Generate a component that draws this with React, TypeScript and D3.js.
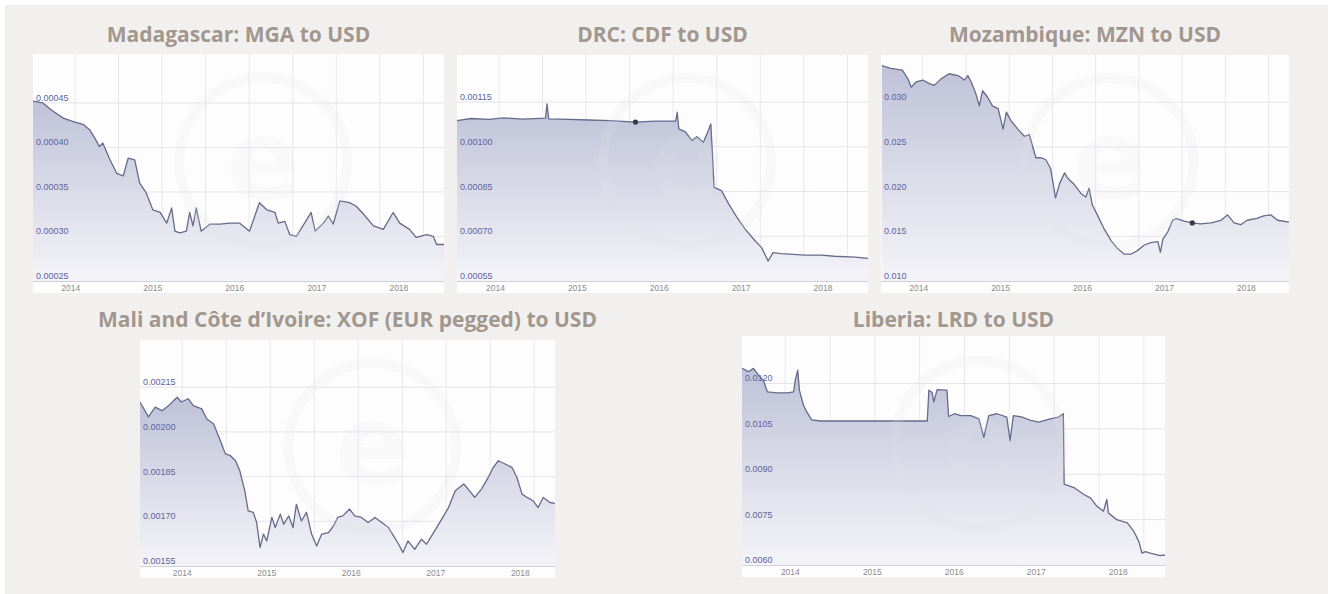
import React from 'react'
import * as d3 from 'd3'

const W = 1328
const H = 594

// [decimal year, USD per unit]
const mga: [number, number][] = [
  [2013.54, 0.000452], [2013.66, 0.00045], [2013.78, 0.000441], [2013.91, 0.000433], [2014.03, 0.000429],
  [2014.15, 0.000426], [2014.23, 0.00042], [2014.29, 0.000411], [2014.35, 0.000401], [2014.39, 0.000405],
  [2014.48, 0.000386], [2014.56, 0.000371], [2014.64, 0.000368], [2014.7, 0.000388], [2014.78, 0.000386],
  [2014.84, 0.00036], [2014.92, 0.000349], [2015.0, 0.00033], [2015.09, 0.000327], [2015.17, 0.000315],
  [2015.23, 0.000332], [2015.27, 0.000306], [2015.33, 0.000304], [2015.41, 0.000306], [2015.45, 0.000327],
  [2015.49, 0.000312], [2015.53, 0.000332], [2015.59, 0.000306], [2015.7, 0.000314], [2015.82, 0.000314],
  [2015.94, 0.000315], [2016.06, 0.000315], [2016.18, 0.000306], [2016.3, 0.000338], [2016.39, 0.00033],
  [2016.49, 0.000327], [2016.53, 0.000315], [2016.61, 0.000317], [2016.67, 0.000302], [2016.75, 0.0003],
  [2016.83, 0.000312], [2016.93, 0.000327], [2016.98, 0.000306], [2017.08, 0.000315], [2017.14, 0.000323],
  [2017.2, 0.000314], [2017.28, 0.00034], [2017.4, 0.000338], [2017.48, 0.000334], [2017.57, 0.000325],
  [2017.69, 0.000312], [2017.81, 0.000308], [2017.93, 0.000327], [2018.01, 0.000315], [2018.13, 0.000308],
  [2018.21, 0.000299], [2018.34, 0.000302], [2018.42, 0.0003], [2018.46, 0.000291], [2018.55, 0.000291],
]

const cdf: [number, number][] = [
  [2013.53, 0.001088], [2013.7, 0.001095], [2013.92, 0.001092], [2014.1, 0.001097], [2014.33, 0.001093],
  [2014.61, 0.001096], [2014.63, 0.001144], [2014.65, 0.001094], [2014.9, 0.001092], [2015.14, 0.00109],
  [2015.4, 0.001088], [2015.71, 0.001083], [2015.95, 0.001086], [2016.2, 0.001086], [2016.22, 0.001116],
  [2016.24, 0.00106], [2016.32, 0.00105], [2016.4, 0.001021], [2016.46, 0.001034], [2016.54, 0.001015],
  [2016.6, 0.001055], [2016.63, 0.001077], [2016.65, 0.000976], [2016.67, 0.000864], [2016.76, 0.000853],
  [2016.85, 0.000808], [2016.95, 0.000763], [2017.05, 0.000724], [2017.17, 0.000685], [2017.25, 0.000662],
  [2017.33, 0.000617], [2017.39, 0.000645], [2017.49, 0.000642], [2017.78, 0.000637], [2017.98, 0.000637],
  [2018.14, 0.000633], [2018.39, 0.00063], [2018.55, 0.000626],
]

const mzn: [number, number][] = [
  [2013.55, 0.0341], [2013.66, 0.0338], [2013.8, 0.0336], [2013.87, 0.0326], [2013.91, 0.0317],
  [2013.97, 0.0323], [2014.05, 0.0325], [2014.13, 0.0321], [2014.19, 0.0319], [2014.27, 0.0326],
  [2014.37, 0.0332], [2014.48, 0.033], [2014.56, 0.0325], [2014.6, 0.033], [2014.64, 0.0323],
  [2014.7, 0.0309], [2014.74, 0.0296], [2014.78, 0.0313], [2014.84, 0.0306], [2014.9, 0.0296],
  [2014.97, 0.0293], [2015.03, 0.027], [2015.07, 0.0289], [2015.13, 0.0279], [2015.21, 0.027],
  [2015.29, 0.0262], [2015.35, 0.0264], [2015.43, 0.0238], [2015.49, 0.0238], [2015.55, 0.0236],
  [2015.61, 0.0226], [2015.67, 0.0193], [2015.72, 0.0209], [2015.78, 0.0221], [2015.82, 0.0215],
  [2015.9, 0.0208], [2015.98, 0.0198], [2016.04, 0.0194], [2016.08, 0.0204], [2016.12, 0.0185],
  [2016.18, 0.0174], [2016.26, 0.0159], [2016.35, 0.0145], [2016.43, 0.0136], [2016.51, 0.013],
  [2016.59, 0.013], [2016.67, 0.0134], [2016.75, 0.014], [2016.83, 0.0143], [2016.92, 0.0144],
  [2016.95, 0.0132], [2016.98, 0.0147], [2017.04, 0.0155], [2017.1, 0.0168], [2017.14, 0.017],
  [2017.24, 0.0167], [2017.34, 0.0165], [2017.44, 0.0164], [2017.57, 0.0165], [2017.69, 0.0168],
  [2017.77, 0.0174], [2017.85, 0.0165], [2017.93, 0.0163], [2018.01, 0.0168], [2018.13, 0.017],
  [2018.21, 0.0173], [2018.3, 0.0174], [2018.38, 0.0168], [2018.52, 0.0166],
]

const xof: [number, number][] = [
  [2013.5, 0.0021], [2013.6, 0.00205], [2013.68, 0.002083], [2013.76, 0.002071], [2013.84, 0.002088],
  [2013.9, 0.002105], [2013.94, 0.002116], [2013.99, 0.0021], [2014.07, 0.002111], [2014.13, 0.002088],
  [2014.23, 0.002077], [2014.29, 0.002043], [2014.37, 0.002027], [2014.45, 0.001971], [2014.51, 0.001926],
  [2014.57, 0.00192], [2014.63, 0.001903], [2014.68, 0.00187], [2014.74, 0.001802], [2014.78, 0.001735],
  [2014.84, 0.00173], [2014.88, 0.001696], [2014.92, 0.001612], [2014.96, 0.001657], [2015.0, 0.001634],
  [2015.06, 0.001713], [2015.1, 0.001679], [2015.16, 0.001724], [2015.2, 0.00169], [2015.26, 0.001718],
  [2015.31, 0.001679], [2015.35, 0.001757], [2015.41, 0.001701], [2015.47, 0.00173], [2015.53, 0.001657],
  [2015.59, 0.001617], [2015.65, 0.001657], [2015.73, 0.001662], [2015.79, 0.001685], [2015.84, 0.001713],
  [2015.9, 0.001718], [2015.98, 0.001741], [2016.04, 0.001718], [2016.12, 0.001713], [2016.2, 0.001696],
  [2016.28, 0.001713], [2016.36, 0.001696], [2016.44, 0.001679], [2016.5, 0.001651], [2016.56, 0.001623],
  [2016.61, 0.001595], [2016.67, 0.001634], [2016.75, 0.001606], [2016.83, 0.00164], [2016.89, 0.001623],
  [2016.95, 0.001651], [2017.01, 0.001679], [2017.07, 0.001707], [2017.15, 0.001746], [2017.23, 0.001802],
  [2017.33, 0.001825], [2017.4, 0.001802], [2017.46, 0.00178], [2017.54, 0.001808], [2017.62, 0.001847],
  [2017.68, 0.001881], [2017.74, 0.001903], [2017.82, 0.001892], [2017.9, 0.001881], [2017.96, 0.001847],
  [2018.02, 0.001791], [2018.08, 0.00178], [2018.15, 0.001769], [2018.21, 0.001746], [2018.27, 0.00178],
  [2018.35, 0.001763], [2018.41, 0.00176],
]

const lrd: [number, number][] = [
  [2013.41, 0.0125], [2013.49, 0.01239], [2013.55, 0.0125], [2013.61, 0.01228], [2013.67, 0.01211],
  [2013.72, 0.01172], [2013.84, 0.01169], [2013.96, 0.01169], [2014.04, 0.01172], [2014.06, 0.01211],
  [2014.09, 0.01244], [2014.11, 0.01178], [2014.16, 0.01128], [2014.2, 0.01106], [2014.26, 0.0108],
  [2014.37, 0.01076], [2015.02, 0.01076], [2015.67, 0.01076], [2015.69, 0.01178], [2015.73, 0.0117],
  [2015.75, 0.01139], [2015.79, 0.0118], [2015.91, 0.01178], [2015.93, 0.01091], [2016.0, 0.011],
  [2016.08, 0.01094], [2016.2, 0.01094], [2016.3, 0.01083], [2016.36, 0.01022], [2016.42, 0.01094],
  [2016.52, 0.011], [2016.64, 0.01089], [2016.68, 0.01011], [2016.72, 0.01094], [2016.83, 0.01089],
  [2016.93, 0.01078], [2017.03, 0.01072], [2017.17, 0.01083], [2017.27, 0.01089], [2017.33, 0.011],
  [2017.34, 0.00867], [2017.46, 0.00856], [2017.58, 0.00833], [2017.66, 0.00822], [2017.74, 0.00794],
  [2017.82, 0.00778], [2017.86, 0.00817], [2017.88, 0.00772], [2017.98, 0.0075], [2018.11, 0.00739],
  [2018.19, 0.00711], [2018.25, 0.00678], [2018.29, 0.00639], [2018.33, 0.00644], [2018.39, 0.00639],
  [2018.51, 0.00631], [2018.57, 0.00633],
]

const yearTicks = [2014, 2015, 2016, 2017, 2018]
const mgaTicks = [0.00025, 0.0003, 0.00035, 0.0004, 0.00045]
const cdfTicks = [0.00055, 0.0007, 0.00085, 0.001, 0.00115]
const mznTicks = [0.01, 0.015, 0.02, 0.025, 0.03]
const xofTicks = [0.00155, 0.0017, 0.00185, 0.002, 0.00215]
const lrdTicks = [0.006, 0.0075, 0.009, 0.0105, 0.012]

type Panel = {
  title: string
  series: [number, number][]
  ticks: number[]
  digits: number
  x: number
  y: number
  w: number
  h: number
  titleY: number
  xDom: [number, number]
  yTop: number
  marker?: number
}

const panels: Panel[] = [
  { title: 'Madagascar: MGA to USD', series: mga, ticks: mgaTicks, digits: 5, x: 33, y: 54, w: 411, h: 239, titleY: 42, xDom: [2013.54, 2018.55], yTop: 0.000505 },
  { title: 'DRC: CDF to USD', series: cdf, ticks: cdfTicks, digits: 5, x: 457, y: 55, w: 411, h: 238, titleY: 42, xDom: [2013.53, 2018.55], yTop: 0.001308, marker: 2015.71 },
  { title: 'Mozambique: MZN to USD', series: mzn, ticks: mznTicks, digits: 3, x: 881, y: 55, w: 408, h: 238, titleY: 42, xDom: [2013.54, 2018.52], yTop: 0.0353, marker: 2017.34 },
  { title: 'Mali and Côte d\u2019Ivoire: XOF (EUR pegged) to USD', series: xof, ticks: xofTicks, digits: 5, x: 140, y: 340, w: 415, h: 238, titleY: 327, xDom: [2013.5, 2018.41], yTop: 0.002308 },
  { title: 'Liberia: LRD to USD', series: lrd, ticks: lrdTicks, digits: 4, x: 742, y: 336, w: 423, h: 241, titleY: 327, xDom: [2013.41, 2018.57], yTop: 0.01357, marker: 2017.62 },
]

const ChartPanel = ({ p, i }: { p: Panel; i: number }) => {
  const bottom = p.y + p.h - 12
  const x = d3.scaleLinear().domain(p.xDom).range([p.x, p.x + p.w])
  const y = d3.scaleLinear().domain([p.ticks[0], p.yTop]).range([bottom, p.y])
  const gx = d3.scaleLinear().domain([0, 1]).range([p.x, p.x + p.w])
  const gridFr = d3.range(0.102, 1, 0.106)

  const line = d3.line<[number, number]>().x(d => x(d[0])).y(d => y(d[1]))
  const area = d3.area<[number, number]>().x(d => x(d[0])).y0(bottom).y1(d => y(d[1]))
  const fmt = d3.format(`.${p.digits}f`)
  const gid = `fill${i}`
  const mk = p.marker !== undefined ? p.series.find(d => d[0] === p.marker) : undefined
  const wx = p.x + p.w * 0.56
  const wy = p.y + p.h * 0.45

  return (
    <g>
      <text x={p.x + p.w / 2} y={p.titleY} textAnchor="middle" fontFamily="'Open Sans', sans-serif"
        fontWeight={700} fontSize={21} fill="#a2978e">{p.title}</text>
      <rect x={p.x} y={p.y} width={p.w} height={p.h} fill="#fdfdfd" />
      <defs>
        <linearGradient id={gid} x1="0" y1="0" x2="0" y2="1">
          <stop offset="0" stopColor="#bfc2d8" />
          <stop offset="1" stopColor="#f4f4f8" />
        </linearGradient>
        <clipPath id={`clip${i}`}>
          <rect x={p.x} y={p.y} width={p.w} height={bottom - p.y} />
        </clipPath>
      </defs>
      {gridFr.map((f, k) => (
        <line key={k} x1={gx(f)} x2={gx(f)} y1={p.y} y2={bottom} stroke="#e8e8ee" />
      ))}
      {p.ticks.slice(1).map(t => (
        <line key={t} x1={p.x} x2={p.x + p.w} y1={y(t)} y2={y(t)} stroke="#e4e4eb" />
      ))}
      <g clipPath={`url(#clip${i})`}>
        <path d={area(p.series) ?? ''} fill={`url(#${gid})`} />
        <path d={line(p.series) ?? ''} fill="none" stroke="#666a8b" strokeWidth={1.3} strokeLinejoin="round" />
      </g>
      <circle cx={wx} cy={wy} r={84} fill="none" stroke="#e4e4ea" strokeWidth={10} opacity={0.18} />
      <text x={wx} y={wy + 36} textAnchor="middle" fontFamily="'DejaVu Sans', sans-serif"
        fontWeight={700} fontSize={110} fill="#e4e4ea" opacity={0.14}>e</text>
      {mk && <circle cx={x(mk[0])} cy={y(mk[1])} r={2.6} fill="#3a3a44" />}
      <line x1={p.x} x2={p.x + p.w} y1={bottom + 0.5} y2={bottom + 0.5} stroke="#cfd0da" />
      {p.ticks.map(t => (
        <text key={t} x={p.x + 3} y={y(t) - 2} fontFamily="'Liberation Sans', Arial, sans-serif" fontSize={9}
          fill="#5e63a0">{fmt(t)}</text>
      ))}
      {yearTicks.map(t => (
        <text key={t} x={x(t)} y={bottom + 9.5} textAnchor="middle" fontFamily="'Liberation Sans', Arial, sans-serif"
          fontSize={8.5} fill="#8c8c90">{t}</text>
      ))}
    </g>
  )
}

const App = () => (
  <svg width={W} height={H} style={{ position: 'absolute', left: 0, top: 0 }}>
    <rect width={W} height={H} fill="#ffffff" />
    <rect x={5} y={5} width={W - 5} height={H - 5} fill="#f1f0ee" />
    {panels.map((p, i) => (
      <ChartPanel key={p.title} p={p} i={i} />
    ))}
  </svg>
)

export default App
